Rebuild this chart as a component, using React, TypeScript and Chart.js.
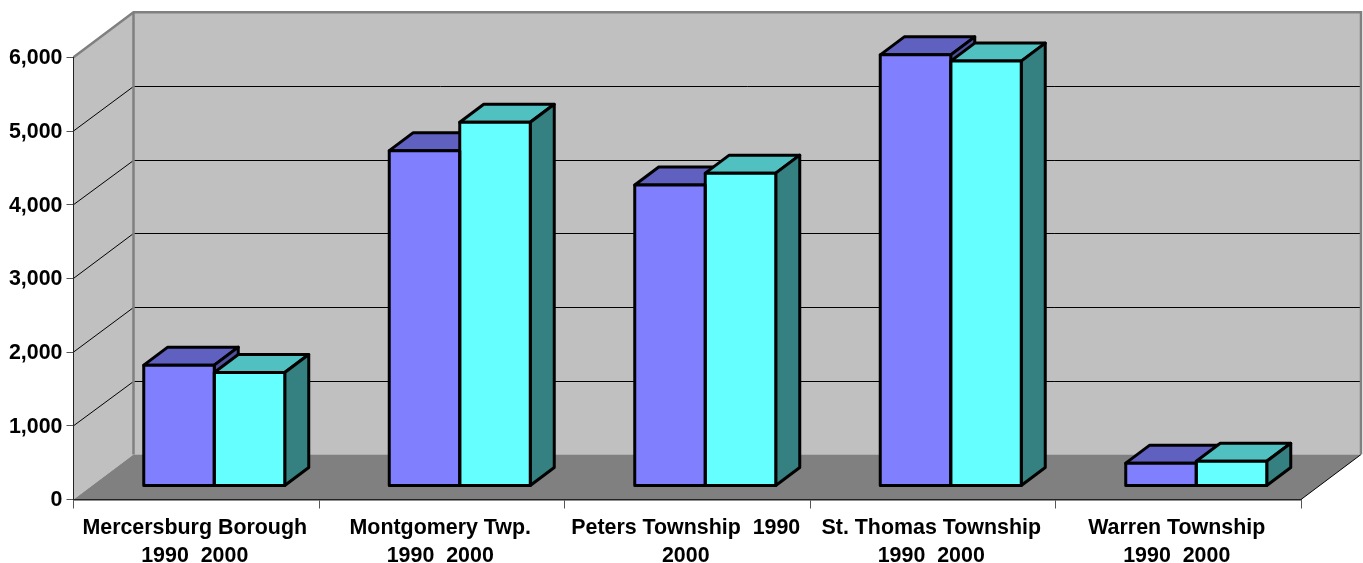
import React, { useEffect, useRef } from "react";
import { Chart, registerables } from "chart.js";

Chart.register(...registerables);

const categories = [
  ["Mercersburg Borough", "1990  2000"],
  ["Montgomery Twp.", "1990  2000"],
  ["Peters Township  1990", "2000"],
  ["St. Thomas Township", "1990  2000"],
  ["Warren Township", "1990  2000"],
];
const values1990 = [1640, 4550, 4085, 5850, 310];
const values2000 = [1540, 4935, 4245, 5765, 335];

const WALL_DX = 60;
const WALL_DY = -45;
const BAR_SHIFT_X = 18;
const BAR_SHIFT_Y = -13.5;
const BAR_DX = 24;
const BAR_DY = -18;

const faceColors = [
  { top: "#6060C0", side: "#5050A0" },
  { top: "#50C0C0", side: "#358080" },
];

function poly(ctx: CanvasRenderingContext2D, pts: number[][]) {
  ctx.beginPath();
  pts.forEach((p, i) => (i ? ctx.lineTo(p[0], p[1]) : ctx.moveTo(p[0], p[1])));
  ctx.closePath();
}

const wallsPlugin = {
  id: "walls",
  beforeDraw(chart: any) {
    const { ctx, chartArea: a, scales } = chart;
    const y = scales.y;
    const L = a.left, R = a.right, T = a.top, B = a.bottom;
    ctx.save();
    ctx.fillStyle = "#C0C0C0";
    poly(ctx, [[L + WALL_DX, T + WALL_DY], [R + WALL_DX, T + WALL_DY], [R + WALL_DX, B + WALL_DY], [L + WALL_DX, B + WALL_DY]]);
    ctx.fill();
    poly(ctx, [[L, T], [L + WALL_DX, T + WALL_DY], [L + WALL_DX, B + WALL_DY], [L, B]]);
    ctx.fill();
    ctx.fillStyle = "#808080";
    poly(ctx, [[L, B], [L + WALL_DX, B + WALL_DY], [R + WALL_DX, B + WALL_DY], [R, B]]);
    ctx.fill();

    ctx.strokeStyle = "#000000";
    ctx.lineWidth = 1;
    y.ticks.forEach((t: any) => {
      if (t.value === 0 || t.value === y.max) return;
      const py = y.getPixelForValue(t.value);
      const backY = Math.round(py + WALL_DY) + 0.5;
      ctx.beginPath();
      ctx.moveTo(L, py);
      ctx.lineTo(L + WALL_DX, backY);
      ctx.lineTo(R + WALL_DX, backY);
      ctx.stroke();
    });

    ctx.beginPath();
    ctx.moveTo(R, B);
    ctx.lineTo(R + WALL_DX, B + WALL_DY);
    ctx.stroke();

    ctx.strokeStyle = "#808080";
    ctx.lineWidth = 2.5;
    ctx.lineJoin = "miter";
    ctx.beginPath();
    ctx.moveTo(L, T);
    ctx.lineTo(L + WALL_DX, T + WALL_DY);
    ctx.lineTo(R + WALL_DX, T + WALL_DY);
    ctx.lineTo(R + WALL_DX, B + WALL_DY);
    ctx.moveTo(L + WALL_DX, T + WALL_DY);
    ctx.lineTo(L + WALL_DX, B + WALL_DY);
    ctx.stroke();
    ctx.restore();
  },
  beforeDatasetsDraw(chart: any) {
    const ctx = chart.ctx;
    ctx.save();
    ctx.translate(BAR_SHIFT_X, BAR_SHIFT_Y);
    ctx.save();
    ctx.strokeStyle = "#000000";
    ctx.lineWidth = 3;
    ctx.lineJoin = "round";
    // Tops and sides of every bar, left series first, are painted under all front faces.
    [0, 1].forEach((index) => {
      const colors = faceColors[index];
      chart.getDatasetMeta(index).data.forEach((bar: any) => {
        const p = bar.getProps(["x", "y", "base", "width"], true);
        const l = p.x - p.width / 2, r = p.x + p.width / 2;
        poly(ctx, [[l, p.y], [l + BAR_DX, p.y + BAR_DY], [r + BAR_DX, p.y + BAR_DY], [r, p.y]]);
        ctx.fillStyle = colors.top;
        ctx.fill();
        ctx.stroke();
        poly(ctx, [[r, p.y], [r + BAR_DX, p.y + BAR_DY], [r + BAR_DX, p.base + BAR_DY], [r, p.base]]);
        ctx.fillStyle = colors.side;
        ctx.fill();
        ctx.stroke();
      });
    });
    ctx.restore();
  },
  afterDatasetsDraw(chart: any) {
    const ctx = chart.ctx;
    ctx.save();
    ctx.strokeStyle = "#000000";
    ctx.lineWidth = 3;
    ctx.lineJoin = "round";
    [0, 1].forEach((index) => {
      chart.getDatasetMeta(index).data.forEach((bar: any) => {
        const p = bar.getProps(["x", "y", "base", "width"], true);
        ctx.strokeRect(p.x - p.width / 2, p.y, p.width, p.base - p.y);
      });
    });
    ctx.restore();
    ctx.restore();
  },
};

export default function App() {
  const ref = useRef<HTMLCanvasElement>(null);
  useEffect(() => {
    const font = { family: "'Liberation Sans', Arial, sans-serif", size: 21.4, weight: "bold" as const };
    const chart = new Chart(ref.current!, {
      type: "bar",
      data: {
        labels: categories as any,
        datasets: [
          { label: "1990", data: values1990, backgroundColor: "#8080FF", barThickness: 70.5 } as any,
          { label: "2000", data: values2000, backgroundColor: "#66FFFF", barThickness: 70.5 } as any,
        ],
      },
      options: {
        animation: false,
        responsive: false,
        devicePixelRatio: 1,
        layout: { padding: { top: 57.3, right: 62, left: 0, bottom: 0 } },
        plugins: { legend: { display: false }, tooltip: { enabled: false }, title: { display: false } },
        scales: {
          x: {
            offset: true,
            grid: { drawOnChartArea: false, drawTicks: true, tickLength: 9, color: "#555555" },
            border: { color: "#222222", width: 1.5 },
            ticks: { font: { ...font, lineHeight: 1.29 }, color: "#000000", padding: 6, maxRotation: 0, autoSkip: false, labelOffset: -1.5 },
            afterFit(scale: any) { scale.height = 63.5; },
          },
          y: {
            min: 0,
            max: 6000,
            ticks: { stepSize: 1000, font, color: "#000000", padding: 4, labelOffset: 1 },
            grid: { drawOnChartArea: false, tickLength: 7, color: "#555555" },
            border: { color: "#222222", width: 1 },
            afterFit(scale: any) { scale.width = 73.5; },
          },
        },
      },
      plugins: [wallsPlugin],
    } as any);
    return () => chart.destroy();
  }, []);
  return (
    <canvas
      ref={ref}
      width={1363}
      height={563}
      style={{ position: "absolute", left: 0, top: 0, display: "block" }}
    />
  );
}
